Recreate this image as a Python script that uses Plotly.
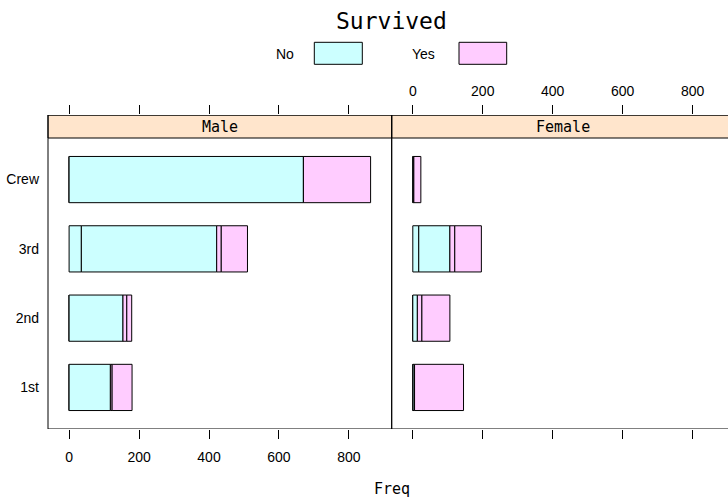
import plotly.graph_objects as go

# ---- data (Titanic: Class x Sex x Age x Survived) ----
classes = ["1st", "2nd", "3rd", "Crew"]
panels = ["Male", "Female"]
survived_levels = ["No", "Yes"]
# stacking order within each bar: No/Child, No/Adult, Yes/Child, Yes/Adult
male_no_child = [0, 0, 35, 0]
male_no_adult = [118, 154, 387, 670]
male_yes_child = [5, 11, 13, 0]
male_yes_adult = [57, 14, 75, 192]
female_no_child = [0, 0, 17, 0]
female_no_adult = [4, 13, 89, 3]
female_yes_child = [1, 13, 14, 0]
female_yes_adult = [140, 80, 76, 20]
x_ticks = [0, 200, 400, 600, 800]

COL = {"No": "#CCFFFF", "Yes": "#FFCCFF"}
STRIP = "#FFE5CC"

W, H = 728, 500
ML, MR, MT, MB = 48, 0, 115, 71
PW, PH = W - ML - MR, H - MT - MB

xmin, xmax = -60.34, 922.34
left_px = 343.7
d = left_px / PW
scale = left_px / (xmax - xmin)
right_max = xmin + (PW - left_px) / scale

ypx_per = 291 / 4.2
ylo, yhi_panel = 0.4, 4.6
yhi = ylo + PH / ypx_per

yvals = [1, 2, 3, 4]

def px(x):
    return (x - ML) / PW

def py(y):
    return (H - MB - y) / PH

fig = go.Figure()

panel_data = {
    "Male": [("No", male_no_child), ("No", male_no_adult), ("Yes", male_yes_child), ("Yes", male_yes_adult)],
    "Female": [("No", female_no_child), ("No", female_no_adult), ("Yes", female_yes_child), ("Yes", female_yes_adult)],
}
axes = {"Male": ("x", "y"), "Female": ("x2", "y2")}

for p in panels:
    base = [0] * len(classes)
    xa, ya = axes[p]
    for surv, vals in panel_data[p]:
        fig.add_trace(go.Bar(
            x=vals, y=yvals, base=list(base), orientation="h", width=0.667,
            marker=dict(color=COL[surv], line=dict(color="black", width=1)),
            xaxis=xa, yaxis=ya, showlegend=False, hoverinfo="skip",
        ))
        base = [b + v for b, v in zip(base, vals)]

# invisible traces to hold the top axes
fig.add_trace(go.Scatter(x=[0], y=[1], xaxis="x3", yaxis="y", mode="markers",
                         marker=dict(opacity=0), showlegend=False, hoverinfo="skip"))
fig.add_trace(go.Scatter(x=[0], y=[1], xaxis="x4", yaxis="y2", mode="markers",
                         marker=dict(opacity=0), showlegend=False, hoverinfo="skip"))

tick_font = dict(family="Liberation Sans", size=14, color="black")
common_x = dict(tickvals=x_ticks, ticks="outside", ticklen=9, tickcolor="black", tickwidth=1,
                showgrid=False, zeroline=False, showline=False, tickfont=tick_font,
                fixedrange=True)

fig.update_layout(
    width=W, height=H, margin=dict(l=ML, r=MR, t=MT, b=MB),
    paper_bgcolor="white", plot_bgcolor="white", barmode="overlay",
    xaxis=dict(domain=[0, d], range=[xmin, xmax], anchor="y", ticklabelstandoff=6, **common_x),
    xaxis2=dict(domain=[d, 1], range=[xmin, right_max], anchor="y2", showticklabels=False, **common_x),
    xaxis3=dict(overlaying="x", side="top", range=[xmin, xmax], anchor="y", showticklabels=False, **common_x),
    xaxis4=dict(overlaying="x2", side="top", range=[xmin, right_max], anchor="y2", ticklabelstandoff=3, **common_x),
    yaxis=dict(domain=[0, 1], range=[ylo, yhi], anchor="x", tickvals=yvals, ticktext=classes,
               ticks="", showgrid=False, zeroline=False, showline=False, tickfont=tick_font,
               ticklabelstandoff=8, fixedrange=True),
    yaxis2=dict(domain=[0, 1], range=[ylo, yhi], anchor="x2", showticklabels=False, ticks="",
                showgrid=False, zeroline=False, showline=False, fixedrange=True),
)

shapes = []
for xr in ["x", "x2"]:
    x1 = 1 if xr == "x" else 1.05
    shapes.append(dict(type="rect", xref=f"{xr} domain", yref="y", x0=0, x1=x1, y0=yhi_panel, y1=yhi,
                       fillcolor=STRIP, line=dict(color="black", width=1), layer="below"))
    shapes.append(dict(type="rect", xref=f"{xr} domain", yref="y", x0=0, x1=x1, y0=ylo, y1=yhi,
                       fillcolor="rgba(0,0,0,0)", line=dict(color="black", width=1), layer="above"))
# legend keys
shapes.append(dict(type="rect", xref="paper", yref="paper", x0=px(314.3), x1=px(362.3), y0=py(64.3), y1=py(42.3),
                   fillcolor=COL["No"], line=dict(color="black", width=1)))
shapes.append(dict(type="rect", xref="paper", yref="paper", x0=px(459), x1=px(506.7), y0=py(64.3), y1=py(42.3),
                   fillcolor=COL["Yes"], line=dict(color="black", width=1)))
fig.update_layout(shapes=shapes)

mono = "DejaVu Sans Mono"
ann = [
    dict(text="Survived", x=px(391), y=py(20.5), font=dict(family=mono, size=23, color="black")),
    dict(text=survived_levels[0], x=px(285.3), y=py(54), font=tick_font),
    dict(text=survived_levels[1], x=px(423.7), y=py(54), font=tick_font),
    dict(text=panels[0], x=px(220), y=py(127), font=dict(family=mono, size=15, color="black")),
    dict(text=panels[1], x=px(563.4), y=py(127), font=dict(family=mono, size=15, color="black")),
    dict(text="Freq", x=px(392), y=py(489), font=dict(family=mono, size=15, color="black")),
]
for a in ann:
    a.update(xref="paper", yref="paper", showarrow=False, xanchor="center", yanchor="middle")
fig.update_layout(annotations=ann)

fig.write_html("out.html", config={"displayModeBar": False},
               post_script="document.body.style.margin='0px';document.body.style.overflow='hidden';")
